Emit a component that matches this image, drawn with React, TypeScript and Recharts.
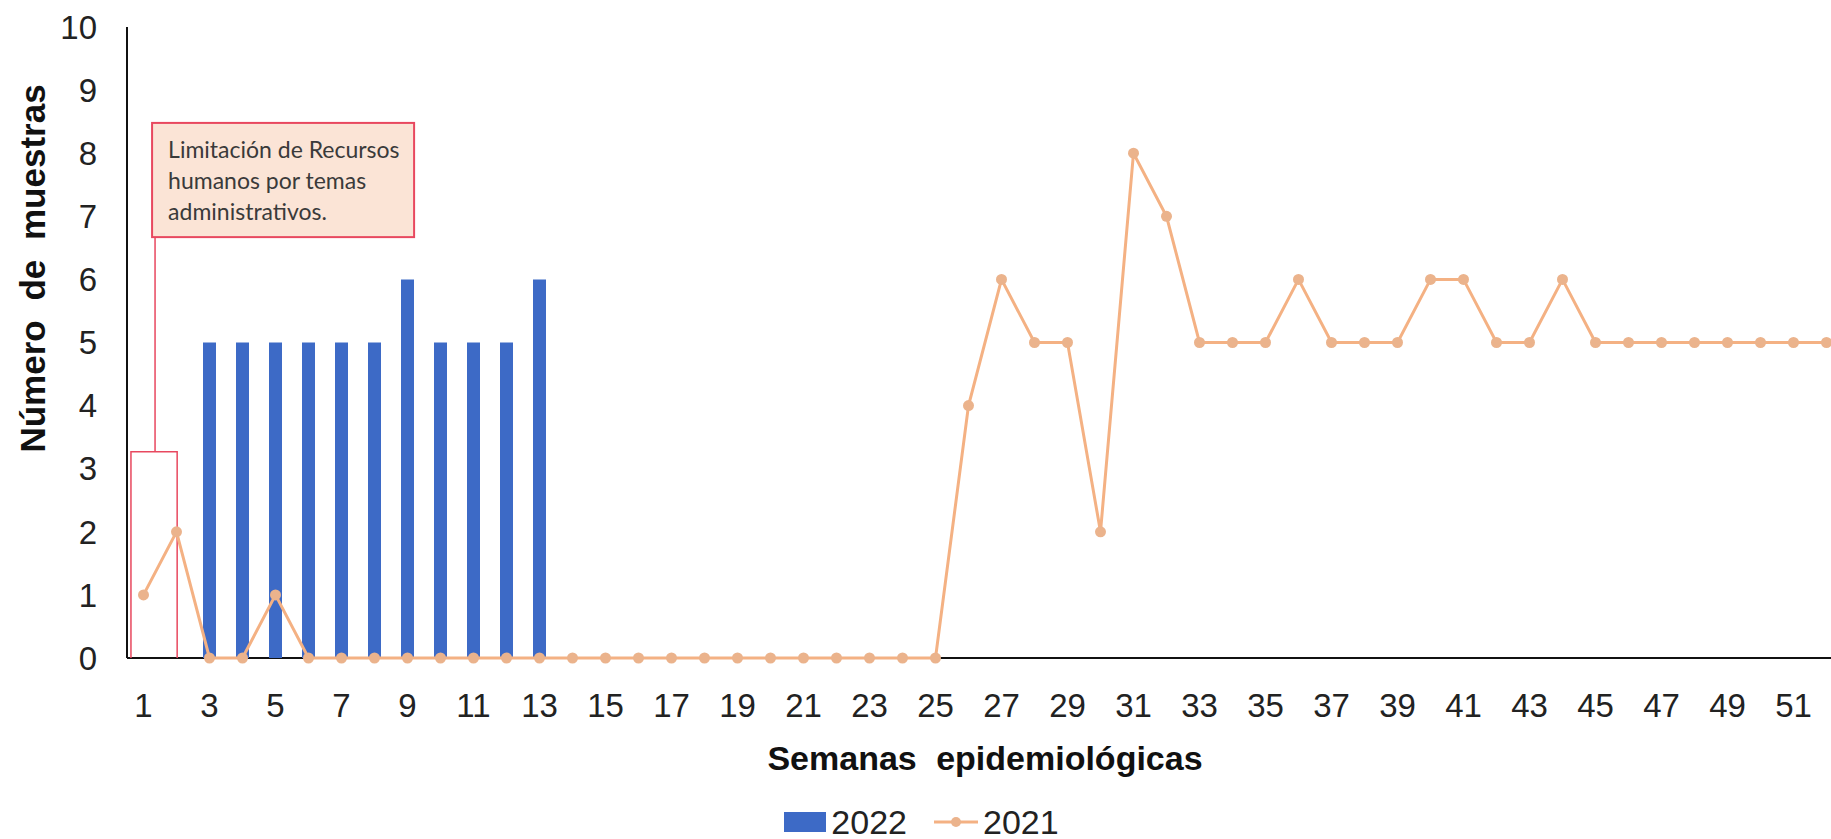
import { Bar, ComposedChart, Legend, Line, XAxis, YAxis } from 'recharts'

// semanas epidemiológicas 1..52
const weeks = Array.from({ length: 52 }, (_, i) => String(i + 1))

// 2022: sólo semanas 3-13
const values2022 = [
  null, null, 5, 5, 5, 5, 5, 5, 6, 5, 5, 5, 6,
  null, null, null, null, null, null, null, null, null, null, null, null, null,
  null, null, null, null, null, null, null, null, null, null, null, null, null,
  null, null, null, null, null, null, null, null, null, null, null, null, null,
]

const values2021 = [
  1, 2, 0, 0, 1, 0, 0, 0, 0, 0, 0, 0, 0,
  0, 0, 0, 0, 0, 0, 0, 0, 0, 0, 0, 0, 4,
  6, 5, 5, 2, 8, 7, 5, 5, 5, 6, 5, 5, 5,
  6, 6, 5, 5, 6, 5, 5, 5, 5, 5, 5, 5, 5,
]

const yTicks = [0, 1, 2, 3, 4, 5, 6, 7, 8, 9, 10]

const noteLines = ['Limitación de Recursos', 'humanos por temas', 'administrativos.']

const data = weeks.map((week, i) => ({
  week,
  y2022: values2022[i],
  y2021: values2021[i],
}))

const BLUE = '#3d6ac6'
const ORANGE = '#f4b183'
const DOT = '#ebb38c'
const FONT = '"Liberation Sans", Arial, sans-serif'

// layout
const W = 1850
const H = 839
const Y_AXIS_W = 127
const X_AXIS_H = 147
const LEGEND_H = 34
const MARGIN = { top: 27, right: 7, bottom: 0, left: 0 }
const plotLeft = MARGIN.left + Y_AXIS_W
const plotTop = MARGIN.top
const band = (W - plotLeft - MARGIN.right) / weeks.length
const plotBottom = H - MARGIN.bottom - LEGEND_H - X_AXIS_H
const unit = (plotBottom - plotTop) / 10
const px = (w: number) => plotLeft + (w - 0.5) * band
const py = (v: number) => plotBottom - v * unit

// x axis baseline drawn under the series
function Baseline() {
  return <line x1={plotLeft} y1={plotBottom} x2={W} y2={plotBottom} stroke="#111" strokeWidth={2} />
}

function Callout() {
  const boxL = px(1.26)
  const boxR = px(9.2)
  const boxT = py(8.48)
  const boxB = py(6.67)
  const stemX = px(1.35)
  const brT = py(3.27)
  const brL = px(0.62)
  const brR = px(2.02)
  return (
    <g>
      <path
        d={`M${stemX},${boxB} L${stemX},${brT} M${brL},${plotBottom} L${brL},${brT} L${brR},${brT} L${brR},${plotBottom}`}
        fill="none"
        stroke="#e8485f"
        strokeWidth={1.5}
      />
      <rect
        x={boxL}
        y={boxT}
        width={boxR - boxL}
        height={boxB - boxT}
        fill="#fbe4d6"
        stroke="#e8485f"
        strokeWidth={2}
      />
      {noteLines.map((t, i) => (
        <text
          key={t}
          x={boxL + 16}
          y={boxT + 35 + i * 31}
          fontFamily="Lato, 'Open Sans', sans-serif"
          fontSize={23}
          fill="#3a3a3a"
        >
          {t}
        </text>
      ))}
    </g>
  )
}

function LegendBox() {
  return (
    <div
      style={{
        height: LEGEND_H,
        display: 'flex',
        justifyContent: 'center',
        alignItems: 'center',
        fontFamily: FONT,
        fontSize: 34,
        color: '#222',
      }}
    >
      <span style={{ width: 42, height: 20, background: BLUE, marginRight: 5 }} />
      <span>2022</span>
      <svg width={44} height={20} style={{ marginLeft: 27, marginRight: 5 }}>
        <line x1={0} y1={10} x2={44} y2={10} stroke={ORANGE} strokeWidth={3} />
        <circle cx={22} cy={10} r={5} fill={DOT} />
      </svg>
      <span>2021</span>
    </div>
  )
}

function YTitle({ viewBox }: any) {
  const cx = viewBox.x + 32
  const cy = viewBox.y + viewBox.height / 2 - 74
  return (
    <text
      x={cx}
      y={cy}
      transform={`rotate(-90, ${cx}, ${cy})`}
      textAnchor="middle"
      dominantBaseline="central"
      fontFamily={FONT}
      fontWeight="bold"
      fontSize={35}
      wordSpacing={10}
      fill="#111"
    >
      Número de muestras
    </text>
  )
}

function XTitle({ viewBox }: any) {
  return (
    <text
      x={viewBox.x + viewBox.width / 2}
      y={viewBox.y + 100}
      textAnchor="middle"
      dominantBaseline="central"
      fontFamily={FONT}
      fontWeight="bold"
      fontSize={34}
      wordSpacing={10}
      fill="#111"
    >
      Semanas epidemiológicas
    </text>
  )
}

export default function App() {
  return (
    <div
      style={{
        position: 'absolute',
        left: 0,
        top: 0,
        width: 1831,
        height: H,
        overflow: 'hidden',
        background: '#fff',
      }}
    >
      <ComposedChart width={W} height={H} data={data} margin={MARGIN} style={{ fontFamily: FONT }}>
        <Baseline />
        <XAxis
          dataKey="week"
          interval={1}
          height={X_AXIS_H}
          tickLine={false}
          tickMargin={30}
          axisLine={false}
          tick={{ fontSize: 33, fill: '#222' }}
          label={{ content: XTitle }}
        />
        <YAxis
          domain={[0, 10]}
          ticks={yTicks}
          width={Y_AXIS_W}
          tickLine={false}
          tickMargin={24}
          axisLine={{ stroke: '#111', strokeWidth: 2 }}
          tick={{ fontSize: 33, fill: '#222' }}
          label={{ content: YTitle }}
        />
        <Bar dataKey="y2022" name="2022" fill={BLUE} barSize={13} isAnimationActive={false} />
        <Line
          dataKey="y2021"
          name="2021"
          stroke={ORANGE}
          strokeWidth={3}
          dot={{ r: 5.5, fill: DOT, stroke: 'none' }}
          activeDot={false}
          isAnimationActive={false}
        />
        <Callout />
        <Legend verticalAlign="bottom" content={LegendBox} />
      </ComposedChart>
    </div>
  )
}
